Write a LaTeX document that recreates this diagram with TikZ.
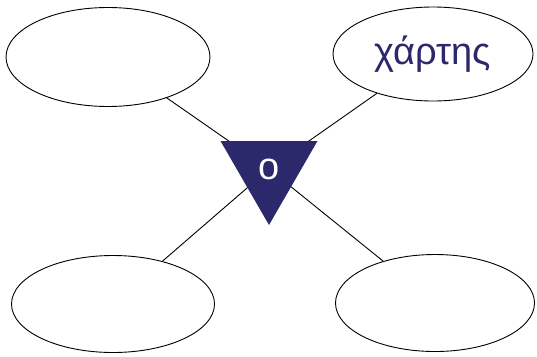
\documentclass[tikz,border=0pt]{standalone}
\usepackage{fontspec}
\setmainfont{Liberation Sans}
\usepackage{tikz}
\usetikzlibrary{positioning,shapes.geometric,backgrounds}
\definecolor{navyblue}{RGB}{43,41,107}
\tikzset{
  bubble/.style={draw, ellipse, line width=0.9pt, inner sep=0pt, fill=white},
  hub/.style={regular polygon, regular polygon sides=3, shape border rotate=180, fill=navyblue, inner sep=0pt, minimum size=112pt, text=white},
  link/.style={line width=0.9pt}
}

\begin{document}
\begin{tikzpicture}[x=1pt, y=-1pt, every node/.style={font=\fontsize{38}{42}\selectfont}]
  \useasboundingbox (0,0) rectangle (537,356);
  \node[hub] (hub) at (269,169) {o};
  \node[bubble, minimum width=204pt, minimum height=99pt] (topleft) at (108,57) {};
  \node[bubble, minimum width=200pt, minimum height=94pt, text=navyblue] (topright) at (433,54) {χάρτης};
  \node[bubble, minimum width=203pt, minimum height=97pt] (botleft) at (113,304) {};
  \node[bubble, minimum width=199pt, minimum height=97pt] (botright) at (435,303) {};
  \begin{scope}[on background layer]
    \draw[link] (topleft) -- (hub.center);
    \draw[link] (topright) -- (hub.center);
    \draw[link] (botleft) -- (hub.center);
    \draw[link] (botright) -- (hub.center);
  \end{scope}
\end{tikzpicture}
\end{document}
